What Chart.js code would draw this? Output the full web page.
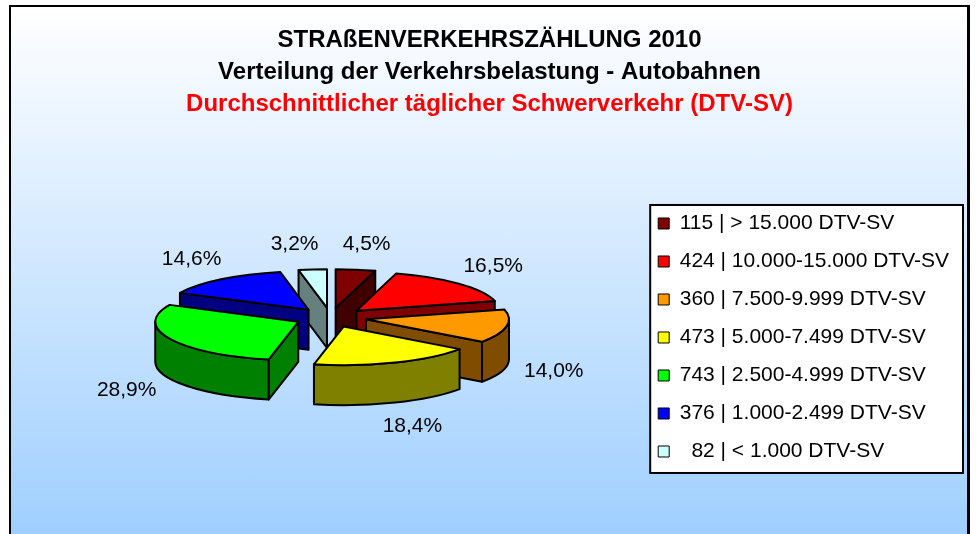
<!DOCTYPE html>
<html lang="de">
<head>
<meta charset="utf-8">
<title>Straßenverkehrszählung 2010 - DTV-SV Autobahnen</title>
<script src="https://cdn.jsdelivr.net/npm/chart.js@4.4.1/dist/chart.umd.min.js"></script>
<style>
  html, body { margin: 0; padding: 0; background: #fff; }
  #wrap { position: relative; width: 976px; height: 534px; overflow: hidden; }
  #frame {
    position: absolute; left: 9px; top: 5px; width: 956px; height: 600px;
    border: 2px solid #000; border-right-width: 3px; border-bottom: none;
    background: linear-gradient(to bottom, #ffffff 0px, #99ccff 560px);
  }
  #myCanvas { position: absolute; left: 0; top: 0; }
</style>
</head>
<body>
<div id="wrap">
  <div id="frame"></div>
  <canvas id="myCanvas" width="976" height="534"></canvas>
</div>
<script>
// values (number of sections per class)
const counts = [115, 424, 360, 473, 743, 376, 82];
const ranges = ['> 15.000 DTV-SV', '10.000-15.000 DTV-SV', '7.500-9.999 DTV-SV',
  '5.000-7.499 DTV-SV', '2.500-4.999 DTV-SV', '1.000-2.499 DTV-SV', '< 1.000 DTV-SV'];
const titleLines = ['STRAßENVERKEHRSZÄHLUNG 2010', 'Verteilung der Verkehrsbelastung - Autobahnen'];
const subtitleText = 'Durchschnittlicher täglicher Schwerverkehr (DTV-SV)';

const topColors = ['#800000', '#FF0000', '#FF9900', '#FFFF00', '#00FF00', '#0000FF', '#CCFFFF'];
const sideColors = ['#400000', '#800000', '#804C00', '#808000', '#008000', '#000080', '#668080'];

const total = counts.reduce((a, b) => a + b, 0);
const legendLabels = counts.map((v, i) => String(v).padStart(3, '\u2007') + ' | ' + ranges[i]);

Chart.defaults.font.family = '"Liberation Sans", Arial, sans-serif';
Chart.defaults.color = '#000';

// arc with a squashed top face and side walls
class Arc3D extends Chart.ArcElement {
  static id = 'arc3d';
  static defaults = { depth: 0, explode: 0, squash: 1, sideColor: '#808080', edgeColor: '#000', edgeWidth: 1 };

  draw(ctx) {
    if (!this.circumference) return;
    const o = this.options;
    const {x, y, startAngle, endAngle, outerRadius: r} = this;
    const k = o.squash, h = o.depth;
    const mid = (startAngle + endAngle) / 2;
    const cx = x + Math.cos(mid) * o.explode;
    const cy = y - h / 2 + Math.sin(mid) * o.explode * k;
    const edge = a => [cx + Math.cos(a) * r, cy + Math.sin(a) * r * k];

    ctx.save();
    ctx.fillStyle = o.sideColor;
    ctx.strokeStyle = o.edgeColor;
    ctx.lineWidth = o.edgeWidth;
    ctx.lineJoin = 'round';
    const wall = a => {
      const [ex, ey] = edge(a);
      ctx.beginPath();
      ctx.moveTo(cx, cy);
      ctx.lineTo(ex, ey);
      ctx.lineTo(ex, ey + h);
      ctx.lineTo(cx, cy + h);
      ctx.closePath();
      ctx.fill();
      ctx.stroke();
    };
    // only the walls that face the viewer
    if (Math.cos(startAngle) < 0) wall(startAngle);
    if (Math.cos(endAngle) > 0) wall(endAngle);
    const a0 = Math.max(startAngle, 0), a1 = Math.min(endAngle, Math.PI);
    if (a1 > a0) {
      ctx.beginPath();
      ctx.ellipse(cx, cy, r, r * k, 0, a0, a1);
      ctx.ellipse(cx, cy + h, r, r * k, 0, a1, a0, true);
      ctx.closePath();
      ctx.fill();
      ctx.stroke();
    }
    ctx.restore();

    // top face: stock arc drawing on a squashed canvas
    ctx.save();
    ctx.translate(cx, cy);
    ctx.scale(1, k);
    ctx.translate(-x, -y);
    super.draw(ctx);
    ctx.restore();

    // outline, path built squashed but stroked with a round pen
    ctx.save();
    ctx.translate(cx, cy);
    ctx.scale(1, k);
    ctx.beginPath();
    ctx.moveTo(0, 0);
    ctx.arc(0, 0, r, startAngle, endAngle);
    ctx.closePath();
    ctx.restore();
    ctx.save();
    ctx.strokeStyle = o.edgeColor;
    ctx.lineWidth = o.edgeWidth;
    ctx.lineJoin = 'round';
    ctx.stroke();
    ctx.restore();
  }
}

class Pie3DController extends Chart.PieController {
  static id = 'pie3d';
  static defaults = { dataElementType: 'arc3d' };

  draw() {
    const ctx = this.chart.ctx;
    const area = this.chart.chartArea;
    const back = a => Math.sin((a.startAngle + a.endAngle) / 2);
    // back slices first
    [...this._cachedMeta.data]
      .sort((a, b) => back(a) - back(b))
      .forEach(arc => arc.draw(ctx, area));
  }
}

Chart.register(Arc3D, Pie3DController);

// white box with black border behind the legend
const legendFrame = {
  id: 'legendFrame',
  beforeDraw(chart) {
    const lg = chart.legend;
    const hb = lg && lg.legendHitBoxes;
    if (!hb || !hb.length) return;
    const last = hb[hb.length - 1];
    const top = hb[0].top - 8;
    const bottom = last.top + last.height + 11;
    const left = lg.left + 9;
    const right = lg.right + 4;
    const ctx = chart.ctx;
    ctx.save();
    ctx.fillStyle = '#fff';
    ctx.fillRect(left, top, right - left, bottom - top);
    ctx.strokeStyle = '#000';
    ctx.lineWidth = 2;
    ctx.strokeRect(left, top, right - left, bottom - top);
    ctx.restore();
  }
};

// percentage labels around the pie
const sliceLabels = {
  id: 'sliceLabels',
  afterDatasetsDraw(chart) {
    const ctx = chart.ctx;
    const meta = chart.getDatasetMeta(0);
    ctx.save();
    ctx.font = '21px "Liberation Sans", Arial, sans-serif';
    ctx.fillStyle = '#000';
    ctx.textAlign = 'center';
    ctx.textBaseline = 'middle';
    meta.data.forEach((arc, i) => {
      const o = arc.options;
      const mid = (arc.startAngle + arc.endAngle) / 2;
      const c = Math.cos(mid), s = Math.sin(mid);
      const dx = c * (arc.outerRadius + o.explode + 48);
      const lx = arc.x + Math.sign(c) * Math.max(Math.abs(dx), 36);
      const ly = arc.y - o.depth / 2 + s * (arc.outerRadius + o.explode + 95) * o.squash + (s > 0 ? o.depth : 0);
      const pct = (counts[i] / total * 100).toFixed(1).replace('.', ',') + '%';
      ctx.fillText(pct, lx, ly);
    });
    ctx.restore();
  }
};

const pieLegendLabels = Chart.PieController.overrides.plugins.legend.labels.generateLabels;

new Chart(document.getElementById('myCanvas'), {
  type: 'pie3d',
  data: {
    labels: legendLabels,
    datasets: [{
      data: counts,
      backgroundColor: topColors,
      sideColor: sideColors,
      borderWidth: 0,
      edgeColor: '#000',
      edgeWidth: 2,
      radius: 143,
      explode: 36,
      squash: 0.27,
      depth: 40
    }]
  },
  options: {
    responsive: false,
    animation: false,
    events: [],
    layout: { padding: { top: 8, left: 20, right: 17, bottom: 0 } },
    plugins: {
      title: {
        display: true,
        text: titleLines,
        color: '#000',
        font: { size: 24, weight: 'bold', lineHeight: 1.333 },
        padding: { top: 16, bottom: 0 }
      },
      subtitle: {
        display: true,
        text: subtitleText,
        color: '#FF0000',
        font: { size: 24, weight: 'bold', lineHeight: 1.333 },
        padding: { top: 0, bottom: 21 }
      },
      legend: {
        position: 'right',
        fullSize: false,
        labels: {
          font: { size: 21 },
          color: '#000',
          boxWidth: 11,
          boxHeight: 11,
          padding: 17,
          generateLabels: chart => pieLegendLabels(chart).map(item => ({ ...item, strokeStyle: '#000', lineWidth: 1 }))
        }
      },
      tooltip: { enabled: false }
    }
  },
  plugins: [legendFrame, sliceLabels]
});
</script>
</body>
</html>
